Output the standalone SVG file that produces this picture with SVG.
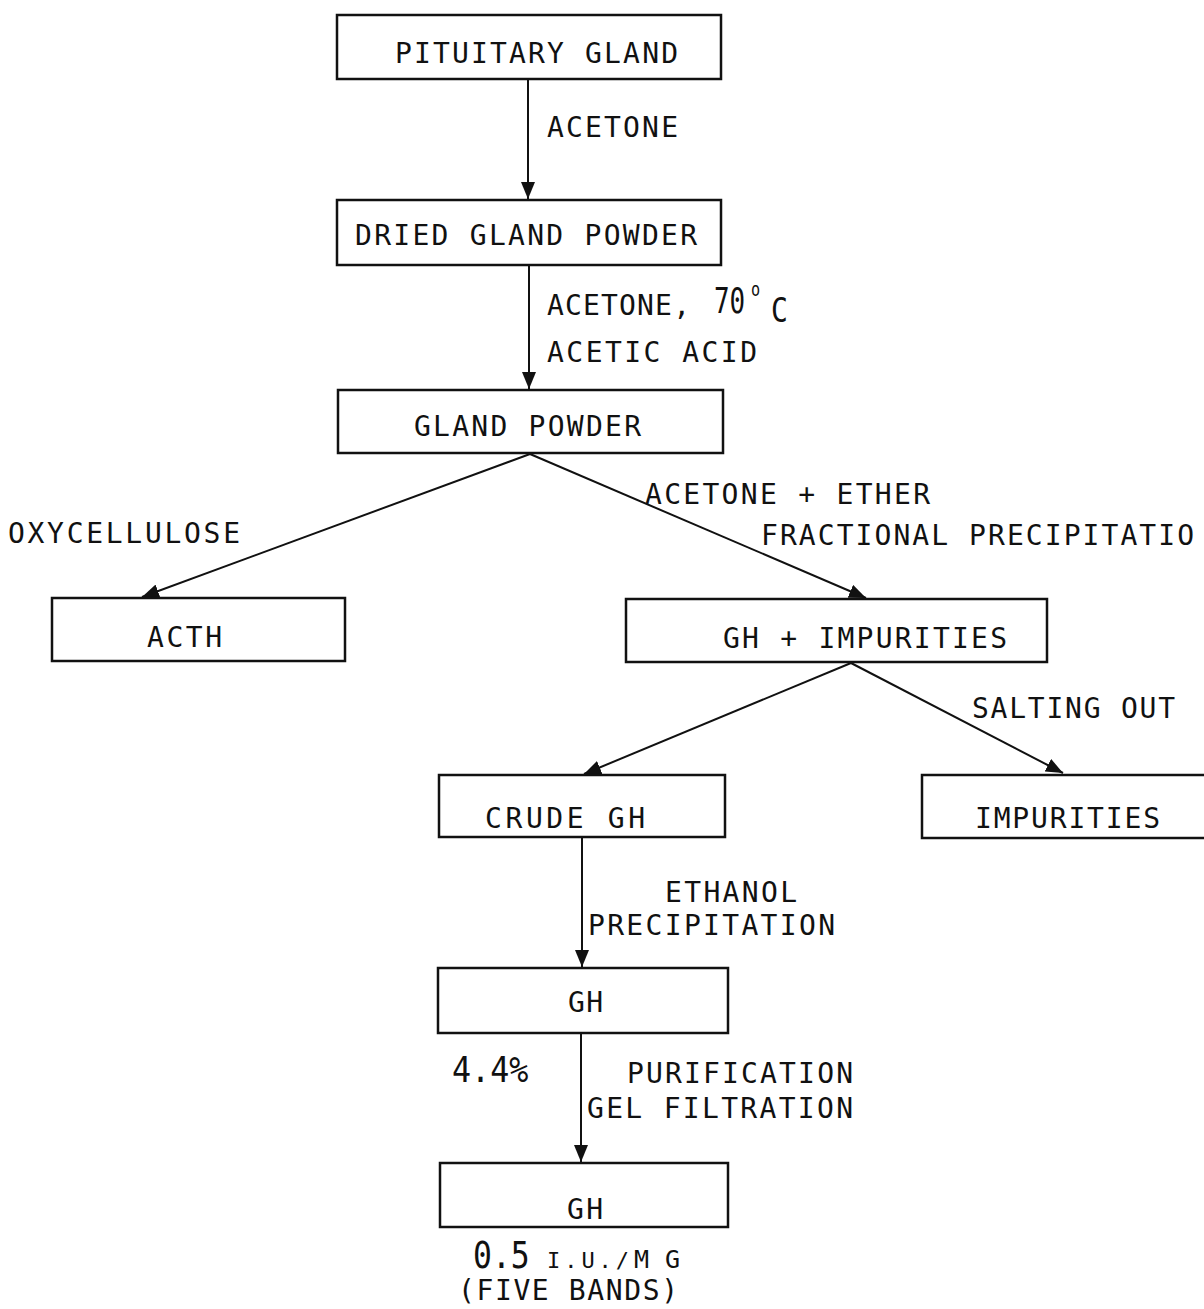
<svg xmlns="http://www.w3.org/2000/svg" width="1204" height="1309" viewBox="0 0 1204 1309">
<style>
.box{fill:none;stroke:#111;stroke-width:2.5}
.t{font-family:"DejaVu Sans Mono","Liberation Mono",monospace;font-size:28px;fill:#111}
.c{stroke:#111;stroke-width:2;fill:none}
</style>
<defs>
<marker id="ah" markerUnits="userSpaceOnUse" markerWidth="18" markerHeight="14" refX="17" refY="7" orient="auto">
<path d="M0,0 L17,7 L0,14 Z" fill="#111"/>
</marker>
</defs>
<rect width="1204" height="1309" fill="#fff"/>
<g id="connectors">
<line class="c" x1="528" y1="79" x2="528" y2="199" marker-end="url(#ah)"/>
<line class="c" x1="529" y1="265" x2="529" y2="389" marker-end="url(#ah)"/>
<line class="c" x1="530" y1="454" x2="142" y2="597" marker-end="url(#ah)"/>
<line class="c" x1="530" y1="454" x2="866" y2="598" marker-end="url(#ah)"/>
<line class="c" x1="851" y1="663" x2="584" y2="774" marker-end="url(#ah)"/>
<line class="c" x1="851" y1="663" x2="1063" y2="773" marker-end="url(#ah)"/>
<line class="c" x1="582" y1="838" x2="582" y2="967" marker-end="url(#ah)"/>
<line class="c" x1="581" y1="1033" x2="581" y2="1162" marker-end="url(#ah)"/>
<text class="t" x="547" y="137" textLength="131">ACETONE</text>
<text class="t" x="547" y="315" textLength="143">ACETONE,</text>
<text class="t" transform="translate(714,313) scale(0.72,1)" style="font-size:36px">70</text>
<text class="t" transform="translate(751,296) scale(0.8,1)" style="font-size:19px">o</text>
<text class="t" transform="translate(771,322) scale(0.85,1)" style="font-size:33px">C</text>
<text class="t" x="547" y="362" textLength="210">ACETIC ACID</text>
<text class="t" x="8" y="543" textLength="232">OXYCELLULOSE</text>
<text class="t" x="645" y="504" textLength="285">ACETONE + ETHER</text>
<text class="t" x="761" y="545" textLength="433">FRACTIONAL PRECIPITATIO</text>
<text class="t" x="972" y="718" textLength="203">SALTING OUT</text>
<text class="t" x="665" y="902" textLength="132">ETHANOL</text>
<text class="t" x="588" y="935" textLength="247">PRECIPITATION</text>
<text class="t" x="627" y="1083" textLength="226">PURIFICATION</text>
<text class="t" x="587" y="1118" textLength="266">GEL FILTRATION</text>
</g>
<g id="n1"><rect class="box" x="337" y="15" width="384" height="64"/><text class="t" x="395" y="63" textLength="283">PITUITARY GLAND</text></g>
<g id="n2"><rect class="box" x="337" y="200" width="384" height="65"/><text class="t" x="355" y="245" textLength="342">DRIED GLAND POWDER</text></g>
<g id="n3"><rect class="box" x="338" y="390" width="385" height="63"/><text class="t" x="414" y="436" textLength="227">GLAND POWDER</text></g>
<g id="n4"><rect class="box" x="52" y="598" width="293" height="63"/><text class="t" x="147" y="647" textLength="75">ACTH</text></g>
<g id="n5"><rect class="box" x="626" y="599" width="421" height="63"/><text class="t" x="723" y="648" textLength="284">GH + IMPURITIES</text></g>
<g id="n6"><rect class="box" x="439" y="775" width="286" height="62"/><text class="t" x="485" y="828" textLength="160">CRUDE GH</text></g>
<g id="n7"><rect class="box" x="922" y="775" width="300" height="63"/><text class="t" x="975" y="828" textLength="185">IMPURITIES</text></g>
<g id="n8"><rect class="box" x="438" y="968" width="290" height="65"/><text class="t" x="568" y="1012" textLength="35">GH</text>
<text class="t" transform="translate(452,1082) scale(0.88,1)" style="font-size:36px">4.4%</text></g>
<g id="n9"><rect class="box" x="440" y="1163" width="288" height="64"/><text class="t" x="567" y="1219" textLength="36">GH</text>
<text class="t" transform="translate(473,1268) scale(0.85,1)" style="font-size:37px">0.5</text>
<text class="t" x="547" y="1268" style="font-size:22px" textLength="82">I.U./</text>
<text class="t" x="634" y="1268" style="font-size:25px" textLength="46">MG</text>
<text class="t" x="458" y="1300" textLength="220">(FIVE BANDS)</text></g>
</svg>
